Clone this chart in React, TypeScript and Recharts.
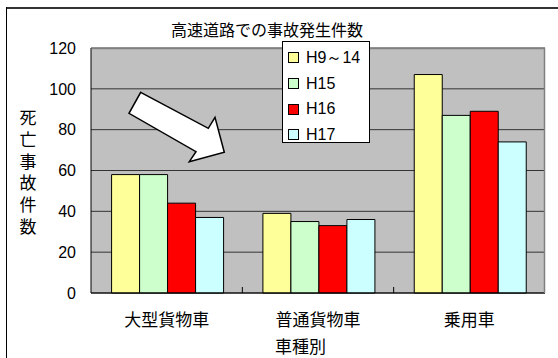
import React from 'react';
import { BarChart, Bar, XAxis, YAxis, CartesianGrid } from 'recharts';

const categories = ['大型貨物車', '普通貨物車', '乗用車'];
const seriesNames = ['H9～14', 'H15', 'H16', 'H17'];
const h9to14 = [58, 39, 107];
const h15 = [58, 35, 87];
const h16 = [44, 33, 89];
const h17 = [37, 36, 74];
const yTicks = [0, 20, 40, 60, 80, 100, 120];
const colors = ['#FFFF99', '#CCFFCC', '#FF0000', '#CCFFFF'];
const chartTitle = '高速道路での事故発生件数';
const yTitle = '死亡事故件数';
const xTitle = '車種別';

const data = categories.map((c, i) => ({
  name: c,
  s0: h9to14[i],
  s1: h15[i],
  s2: h16[i],
  s3: h17[i],
}));

const CJK = '"Noto Sans CJK JP", "Noto Sans", sans-serif';
const LAT = '"Liberation Sans", Arial, sans-serif';

const XTick = (props: any) => {
  const { x, y, payload, index } = props;
  const off = payload && payload.offset ? payload.offset : 0;
  return (
    <g>
      {index < categories.length - 1 && (
        <line x1={x + off} x2={x + off} y1={y} y2={y - 6} stroke="#000" strokeWidth={1} />
      )}
      <text x={x} y={y + 33} textAnchor="middle" fontFamily={CJK} fontSize={17} fill="#000">
        {payload.value}
      </text>
    </g>
  );
};

const LegendBox = () => (
  <div
    style={{
      position: 'absolute',
      left: 282,
      top: 41,
      width: 88,
      height: 102,
      border: '1px solid #000',
      background: '#fff',
      boxSizing: 'border-box',
      paddingTop: 3,
      fontFamily: LAT,
      fontSize: 16,
      color: '#000',
    }}
  >
    {seriesNames.map((n, i) => (
      <div key={n} style={{ display: 'flex', alignItems: 'center', height: 25.7, paddingLeft: 5 }}>
        <span
          style={{
            display: 'inline-block',
            width: 11,
            height: 11,
            boxSizing: 'border-box',
            border: '1px solid #000',
            background: colors[i],
            marginRight: 7,
            flex: 'none',
          }}
        />
        <span style={{ whiteSpace: 'nowrap', lineHeight: '18px' }}>{n}</span>
      </div>
    ))}
  </div>
);

export default function App() {
  return (
    <div style={{ position: 'absolute', left: 0, top: 0, width: 558, height: 358, background: '#fff' }}>
      <BarChart
        width={558}
        height={358}
        data={data}
        margin={{ top: 48, right: 13, bottom: 5, left: 31 }}
        barCategoryGap="13.6%"
        barGap={0}
      >
        <CartesianGrid vertical={false} stroke="#333" fill="#C0C0C0" fillOpacity={1} />
        <XAxis
          dataKey="name"
          height={60}
          tickLine={false}
          tickSize={0}
          tickMargin={0}
          axisLine={{ stroke: '#000', strokeWidth: 1 }}
          tick={<XTick />}
          interval={0}
        />
        <YAxis
          width={60}
          domain={[0, 120]}
          ticks={yTicks}
          tickLine={false}
          tickSize={0}
          tickMargin={15}
          axisLine={{ stroke: '#000', strokeWidth: 1 }}
          tick={{ fill: '#000', fontSize: 16, fontFamily: LAT }}
          interval={0}
        />
        {['s0', 's1', 's2', 's3'].map((k, i) => (
          <Bar key={k} dataKey={k} name={seriesNames[i]} fill={colors[i]} stroke="#000" strokeWidth={1} isAnimationActive={false} />
        ))}
      </BarChart>
      <svg
        width={558}
        height={358}
        style={{ position: 'absolute', left: 0, top: 0, pointerEvents: 'none' }}
      >
        <line x1={6} x2={558} y1={8} y2={8} stroke="#333" strokeWidth={2} />
        <line x1={6.5} x2={6.5} y1={7} y2={358} stroke="#000" strokeWidth={1} />
        <polyline points="91.5,48.5 544.5,48.5 544.5,293" fill="none" stroke="#808080" strokeWidth={1.5} />
        <polygon
          points="140.7,92.3 208.3,128.3 215,117.3 224.3,152.3 189.3,161.7 196,151.7 129,113.3"
          fill="#fff"
          stroke="#000"
          strokeWidth={1.5}
        />
        <text x={267} y={36} textAnchor="middle" fontFamily={CJK} fontSize={16} fill="#000">
          {chartTitle}
        </text>
        <text x={275} y={353} textAnchor="start" fontFamily={CJK} fontSize={17} fill="#000">
          {xTitle}
        </text>
      </svg>
      <div
        style={{
          position: 'absolute',
          left: 18.5,
          top: 109,
          width: 18,
          writingMode: 'vertical-rl',
          fontFamily: CJK,
          fontSize: 17,
          lineHeight: '18px',
          letterSpacing: '4.8px',
          color: '#000',
        }}
      >
        {yTitle}
      </div>
      <LegendBox />
    </div>
  );
}
